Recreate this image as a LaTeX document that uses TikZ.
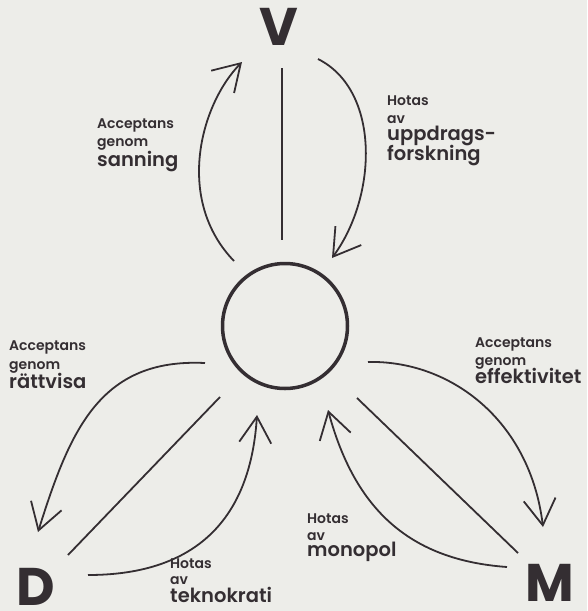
\documentclass[tikz,border=0pt]{standalone}
\usepackage{fontspec}
\setmainfont{Poppins}
\newfontfamily\labfont{Poppins SemiBold}
\usetikzlibrary{arrows.meta}
\definecolor{ink}{RGB}{52,46,50}
\definecolor{paper}{RGB}{237,237,233}
\newcommand{\bigword}[1]{{\fontsize{19.5}{18}\selectfont #1}}
\tikzset{
  corner/.style={font=\fontsize{53}{53}\selectfont\bfseries, text=ink, inner sep=0pt},
  lbl/.style={font=\labfont\fontsize{14}{15}\selectfont, text=ink, align=left, anchor=north west, inner sep=0pt},
  link/.style={draw=ink, line width=1.8pt},
  arrow/.style={link, -{Straight Barb[length=26pt,width=32pt]}}
}

\begin{document}
\begin{tikzpicture}[x=1pt, y=-1pt]
    \fill[paper] (0,0) rectangle (587,611);
    \useasboundingbox (0,0) rectangle (587,611);
    % corners and centre
    \node[corner] (V) at (279,27) {V};
    \node[corner] (D) at (36,587) {D};
    \node[corner] (M) at (550,583) {M};
    \node[draw=ink, circle, line width=3.5pt, minimum size=125pt] (hub) at (285,326) {};
    % end points
    \coordinate (vl0) at (234,261);
    \coordinate (vl1) at (242,62);
    \coordinate (vr0) at (318,59);
    \coordinate (vr1) at (332,258);
    \coordinate (vs0) at (282,68);
    \coordinate (vs1) at (282,240);
    \coordinate (dl0) at (205,363);
    \coordinate (dl1) at (38,532);
    \coordinate (ds0) at (220,397);
    \coordinate (ds1) at (68,555);
    \coordinate (dh0) at (88,575);
    \coordinate (dh1) at (257,415);
    \coordinate (ml0) at (368,362);
    \coordinate (ml1) at (543,527);
    \coordinate (ms0) at (357,398);
    \coordinate (ms1) at (518,553);
    \coordinate (mh0) at (507,567);
    \coordinate (mh1) at (328,410);
    % connectors
    \draw[arrow] (vl0) .. controls (175,200) and (200,105) .. (vl1);
    \draw[arrow] (vr0) .. controls (380,90) and (378,195) .. (vr1);
    \draw[link] (vs0) -- (vs1);
    \draw[arrow] (dl0) .. controls (100,358) and (70,430) .. (dl1);
    \draw[link] (ds0) -- (ds1);
    \draw[arrow] (dh0) .. controls (190,575) and (250,525) .. (dh1);
    \draw[arrow] (ml0) .. controls (450,360) and (530,420) .. (ml1);
    \draw[link] (ms0) -- (ms1);
    \draw[arrow] (mh0) .. controls (410,560) and (355,510) .. (mh1);
    % labels
    \node[lbl] (sanning) at (97,119) {Acceptans\\[3pt]genom\\[-1pt]\bigword{sanning}};
    \node[lbl] (uppdrag) at (387,96) {Hotas\\[3pt]av\\[2pt]\bigword{uppdrags-}\\[-2pt]\bigword{forskning}};
    \node[lbl] (rattvisa) at (9,341) {Acceptans\\[4pt]genom\\[-2pt]\bigword{rättvisa}};
    \node[lbl] (effekt) at (475,338) {Acceptans\\[3pt]genom\\[-3pt]\bigword{effektivitet}};
    \node[lbl] (teknokrati) at (170,559) {Hotas\\[1pt]av\\[1pt]\bigword{teknokrati}};
    \node[lbl] (monopol) at (307,514) {Hotas\\[2pt]av\\[1pt]\bigword{monopol}};
  \end{tikzpicture}
\end{document}
